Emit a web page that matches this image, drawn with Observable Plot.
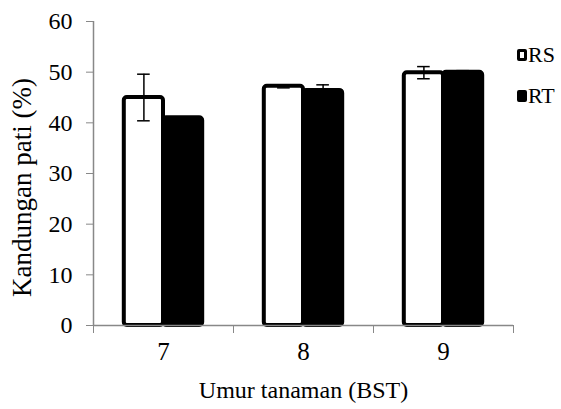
<!DOCTYPE html>
<html>
<head>
<meta charset="utf-8">
<script src="https://cdn.jsdelivr.net/npm/d3@7"></script>
<script src="https://cdn.jsdelivr.net/npm/@observablehq/plot@0.6"></script>
<style>
  html, body { margin: 0; padding: 0; background: #fff; }
  #wrap { position: relative; width: 561px; height: 409px; font-family: "Liberation Serif", "Tinos", "DejaVu Serif", "Times New Roman", serif; }
  #wrap svg text { font-family: "Liberation Serif", "Tinos", "DejaVu Serif", "Times New Roman", serif; }
  .leg { position: absolute; left: 517px; display: flex; align-items: center; font-size: 22px; color: #000; }
  .sw { width: 10px; height: 12px; box-sizing: border-box; margin-right: 1px; border-radius: 2px; }
</style>
</head>
<body>
<div id="wrap"></div>
<script>
const ages = [7, 8, 9];
const seriesNames = ["RS", "RT"];
const rsValues = [45.0, 47.2, 49.9];
const rsErrors = [4.6, 0.3, 1.2];
const rtValues = [41.0, 46.4, 50.0];
const rtErrors = [0, 1.1, 0.3];
const yTicks = [0, 10, 20, 30, 40, 50, 60];

const data = [];
ages.forEach((a, i) => {
  data.push({age: a, series: "RS", value: rsValues[i], err: rsErrors[i]});
  data.push({age: a, series: "RT", value: rtValues[i], err: rtErrors[i]});
});
const half = 0.28;
const x1 = d => d.series === "RS" ? d.age - half : d.age;
const x2 = d => d.series === "RS" ? d.age : d.age + half;
const xc = d => (x1(d) + x2(d)) / 2;
const errData = data.filter(d => d.err > 0);
const bounds = [ages[0] - 0.5, ...ages.map(a => a + 0.5)];
const serif = "Liberation Serif, Tinos, DejaVu Serif, Times New Roman, serif";

const chart = Plot.plot({
  width: 561,
  height: 409,
  marginLeft: 93,
  marginRight: 48,
  marginTop: 21,
  marginBottom: 84,
  style: {fontFamily: serif, color: "#000", background: "#fff"},
  x: {type: "linear", domain: [ages[0] - 0.5, ages[ages.length - 1] + 0.5]},
  y: {domain: [0, 60]},
  marks: [
    Plot.rect(data, {x1, x2, y1: 0, y2: "value", fill: d => d.series === "RS" ? "#fff" : "#000", stroke: "#000", strokeWidth: 4, rx: 3}),
    Plot.ruleX(errData, {x: xc, y1: d => d.value - d.err, y2: d => d.value + d.err, stroke: "#000", strokeWidth: 1.5}),
    Plot.ruleY(errData, {y: d => d.value + d.err, x1: d => xc(d) - 0.045, x2: d => xc(d) + 0.045, stroke: "#000", strokeWidth: 1.5}),
    Plot.ruleY(errData, {y: d => d.value - d.err, x1: d => xc(d) - 0.045, x2: d => xc(d) + 0.045, stroke: "#000", strokeWidth: 1.5}),
    Plot.ruleX([bounds[0]], {stroke: "#888", strokeWidth: 1.5}),
    Plot.ruleY([0], {stroke: "#888", strokeWidth: 1.5}),
    Plot.axisY({ticks: yTicks, tickSize: 7, tickPadding: 14, fontSize: 24, stroke: "#888", label: null}),
    Plot.axisX({ticks: bounds, tickSize: 8, tickFormat: () => "", stroke: "#888", label: null}),
    Plot.axisX({ticks: ages, tickSize: 0, tickPadding: 17, fontSize: 25, tickFormat: d => String(d), label: null}),
    Plot.text(["Umur tanaman (BST)"], {frameAnchor: "bottom", dy: 72, fontSize: 24, fill: "#000"}),
    Plot.text(["Kandungan pati (%)"], {frameAnchor: "left", textAnchor: "middle", rotate: -90, dx: -71, dy: 14, fontSize: 27, fill: "#000"})
  ]
});

const wrap = document.getElementById("wrap");
wrap.appendChild(chart);
const legendTops = [42, 83];
seriesNames.forEach((s, i) => {
  const div = document.createElement("div");
  div.className = "leg";
  div.style.top = legendTops[i] + "px";
  const sw = document.createElement("span");
  sw.className = "sw";
  sw.style.background = s === "RS" ? "#fff" : "#000";
  sw.style.border = "3px solid #000";
  div.appendChild(sw);
  div.appendChild(document.createTextNode(s));
  wrap.appendChild(div);
});
</script>
</body>
</html>
